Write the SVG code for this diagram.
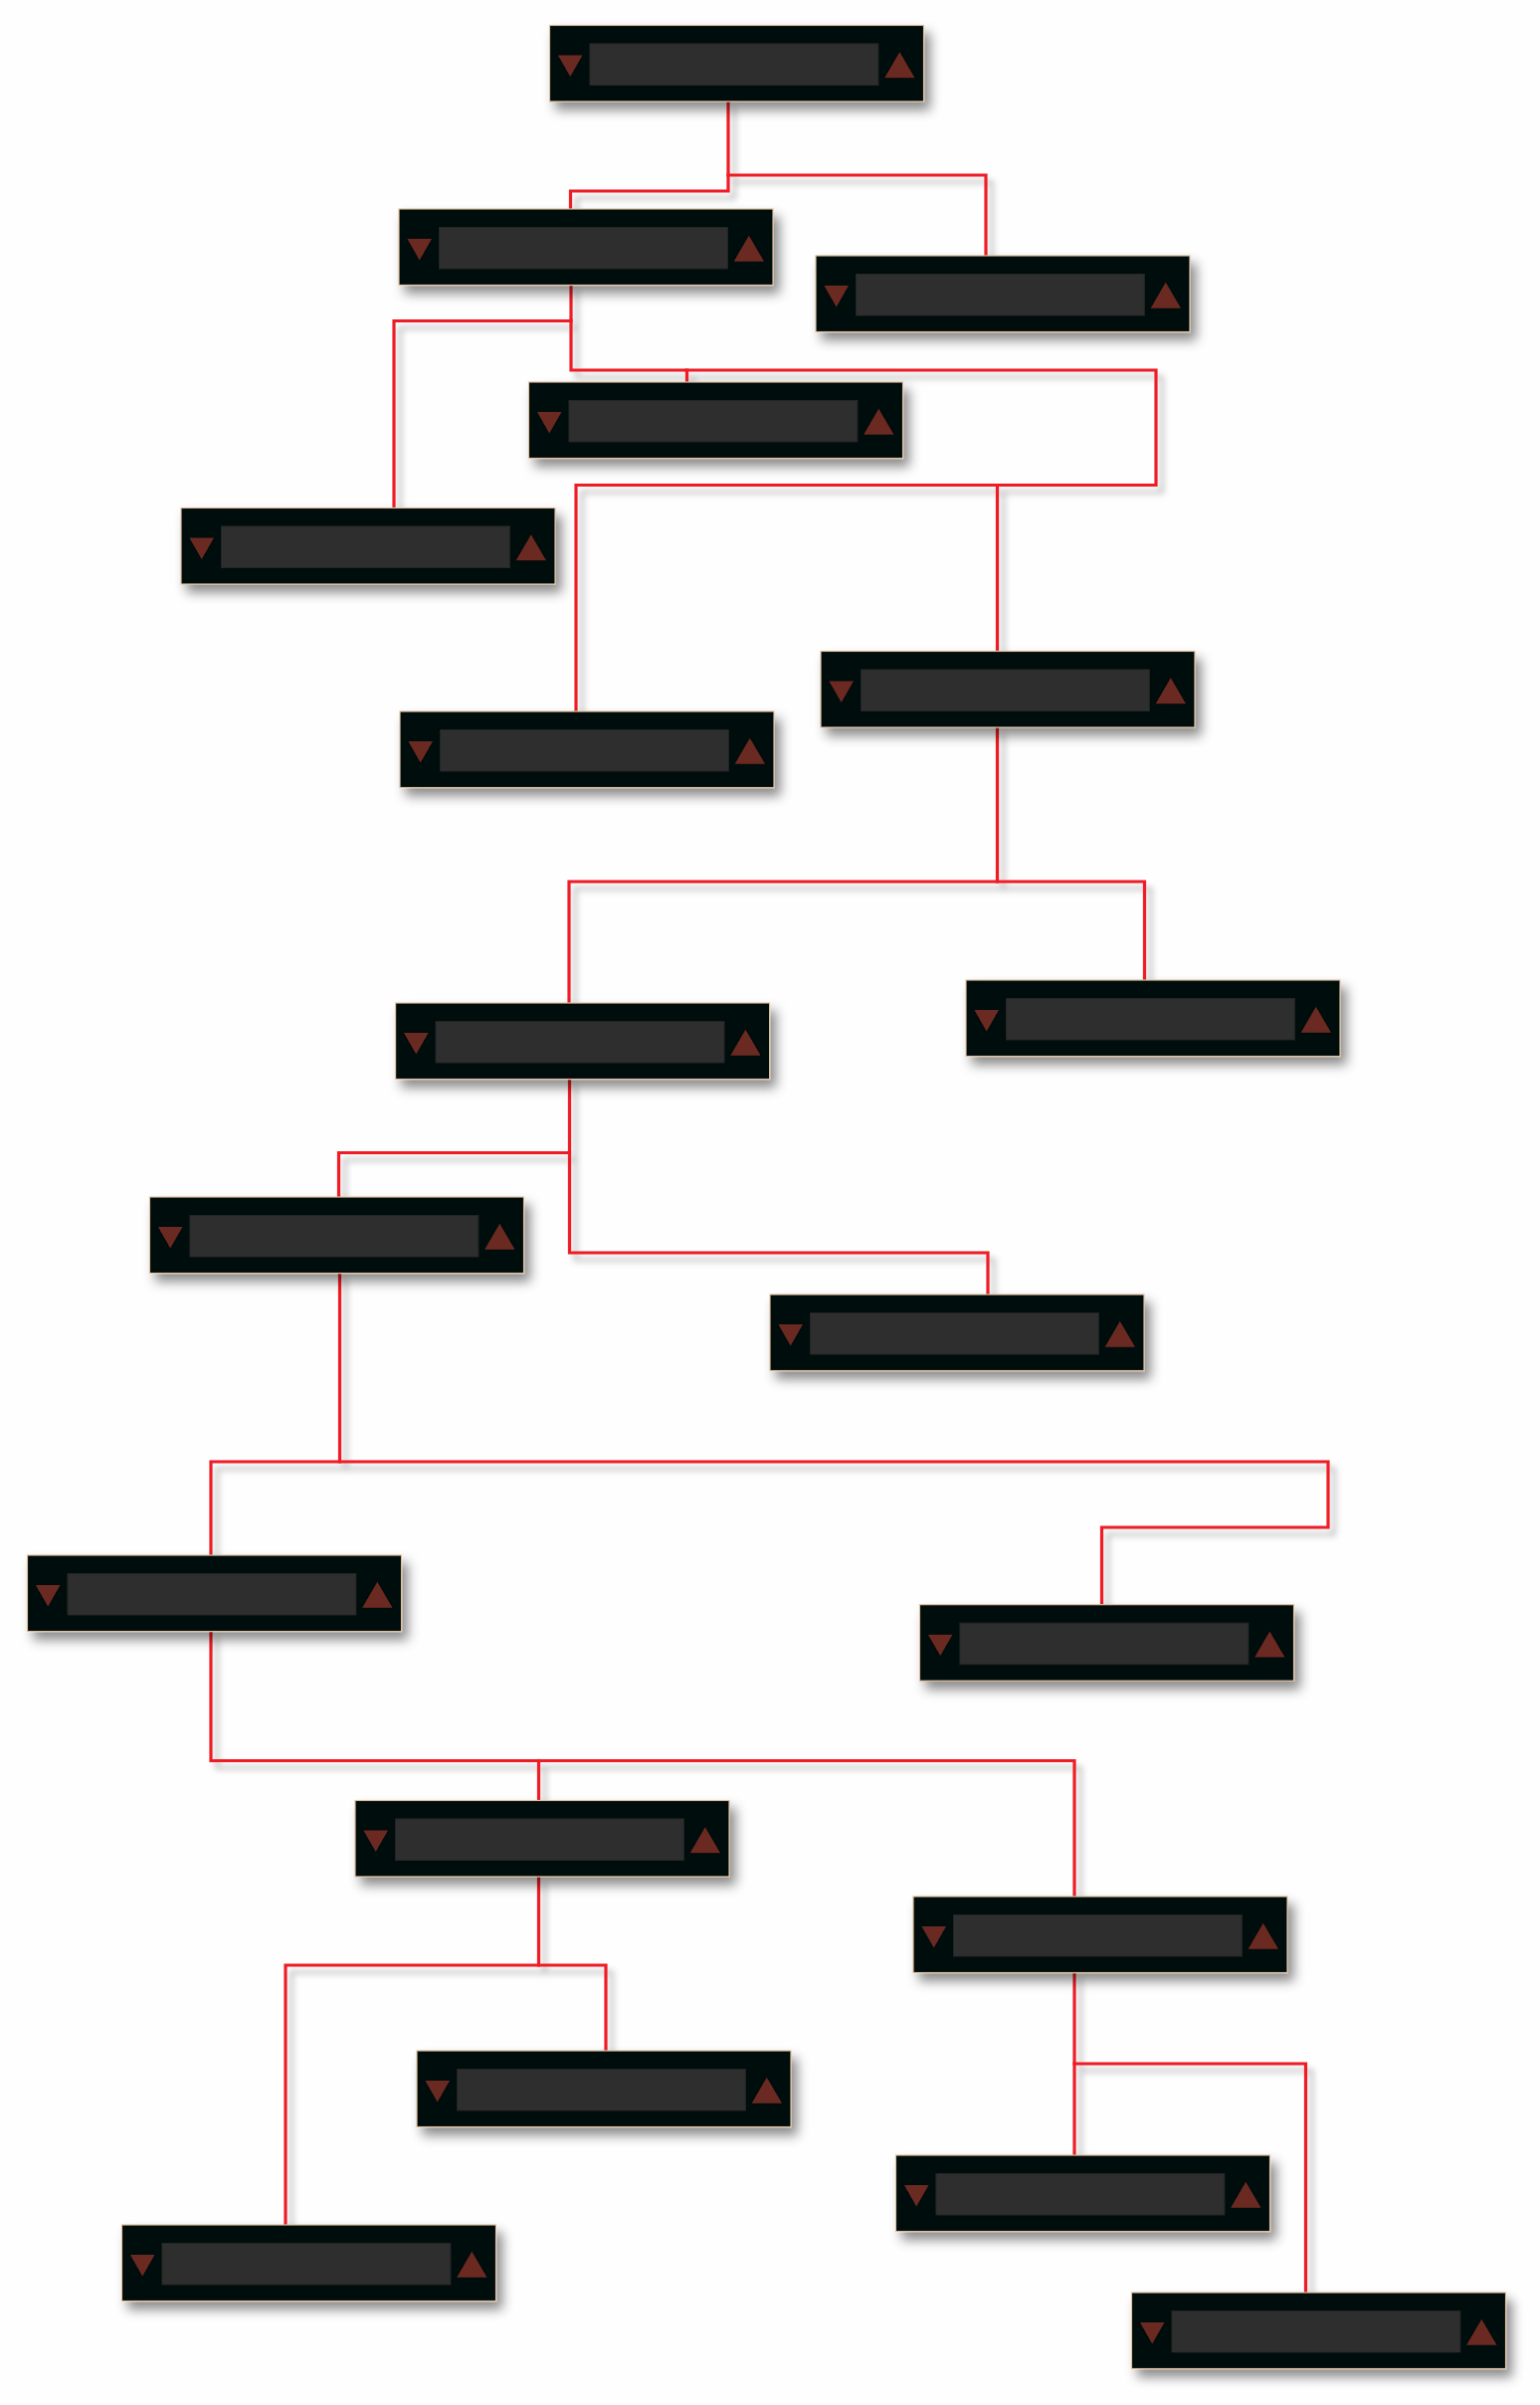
<svg xmlns="http://www.w3.org/2000/svg" xmlns:xlink="http://www.w3.org/1999/xlink" width="1548" height="2417" viewBox="0 0 1548 2417">
<style>
.frame{fill:#040707;stroke:#dcc0a0;stroke-width:1.2}
.field{fill:#2e2f2e;stroke:#252625;stroke-width:1}
.tri{fill:#6b2c23}
.wire{fill:none;stroke:#ee1c25;stroke-width:3.2;stroke-linejoin:miter;stroke-linecap:square}
</style>
<defs>
<filter id="nshadow" x="-10%" y="-30%" width="125%" height="180%">
<feDropShadow dx="6" dy="8" stdDeviation="6" flood-color="#000" flood-opacity="0.45"/>
</filter>
<filter id="wshadow" x="-5%" y="-5%" width="115%" height="115%">
<feDropShadow dx="6" dy="7" stdDeviation="3" flood-color="#000" flood-opacity="0.28"/>
</filter>
<g id="node">
<rect class="frame" x="0" y="0" width="376" height="76.5"/>
<rect class="field" x="40.4" y="18.4" width="290" height="41.6"/>
<polygon class="tri" points="8.4,30 33,30 20.7,51.4"/>
<polygon class="tri" points="351.8,26.7 367,52.7 336.7,52.7"/>
</g>
</defs>
<rect x="0" y="0" width="1548" height="2417" fill="#fefefe"/>
<g id="connectors" filter="url(#wshadow)">
<path class="wire" d="M732,102 V192 H573.5 V210"/>
<path class="wire" d="M732,176 H991 V257"/>
<path class="wire" d="M574,286 V322.5 H396 V510.5"/>
<path class="wire" d="M574,322 V372 H690.5 V384"/>
<path class="wire" d="M690,372 H1162 V487.5 H579 V715"/>
<path class="wire" d="M1002.5,487.5 V654.5"/>
<path class="wire" d="M1002.5,731 V886 H572 V1008"/>
<path class="wire" d="M1002.5,886 H1150.5 V985"/>
<path class="wire" d="M572.5,1084.5 V1158.5 H340.5 V1203"/>
<path class="wire" d="M572.5,1158 V1259 H993 V1301"/>
<path class="wire" d="M341.5,1279 V1469 H212 V1563"/>
<path class="wire" d="M341.5,1469 H1335 V1535 H1107.5 V1612.7"/>
<path class="wire" d="M212,1639.5 V1769.5 H1080 V1906"/>
<path class="wire" d="M541.5,1769.5 V1809.5"/>
<path class="wire" d="M541.5,1886 V1975 H287 V2236"/>
<path class="wire" d="M541.5,1975 H609 V2061"/>
<path class="wire" d="M1080,1982.5 V2166"/>
<path class="wire" d="M1080,2074 H1312.5 V2304"/>
</g>
<g id="n-top" filter="url(#nshadow)" transform="translate(552.5,25.5)"><use xlink:href="#node"/></g>
<g id="n-a" filter="url(#nshadow)" transform="translate(401,210)"><use xlink:href="#node"/></g>
<g id="n-b" filter="url(#nshadow)" transform="translate(820,257)"><use xlink:href="#node"/></g>
<g id="n-c" filter="url(#nshadow)" transform="translate(531.5,384)"><use xlink:href="#node"/></g>
<g id="n-d" filter="url(#nshadow)" transform="translate(182,510.5)"><use xlink:href="#node"/></g>
<g id="n-e" filter="url(#nshadow)" transform="translate(402,715)"><use xlink:href="#node"/></g>
<g id="n-f" filter="url(#nshadow)" transform="translate(825,654.5)"><use xlink:href="#node"/></g>
<g id="n-g" filter="url(#nshadow)" transform="translate(397.6,1008)"><use xlink:href="#node"/></g>
<g id="n-h" filter="url(#nshadow)" transform="translate(971,985)"><use xlink:href="#node"/></g>
<g id="n-i" filter="url(#nshadow)" transform="translate(150.5,1203)"><use xlink:href="#node"/></g>
<g id="n-j" filter="url(#nshadow)" transform="translate(774,1301)"><use xlink:href="#node"/></g>
<g id="n-k" filter="url(#nshadow)" transform="translate(27.5,1563)"><use xlink:href="#node"/></g>
<g id="n-l" filter="url(#nshadow)" transform="translate(924.5,1612.7)"><use xlink:href="#node"/></g>
<g id="n-m" filter="url(#nshadow)" transform="translate(357,1809.5)"><use xlink:href="#node"/></g>
<g id="n-n" filter="url(#nshadow)" transform="translate(918,1906)"><use xlink:href="#node"/></g>
<g id="n-p" filter="url(#nshadow)" transform="translate(419,2061)"><use xlink:href="#node"/></g>
<g id="n-o" filter="url(#nshadow)" transform="translate(900.5,2166)"><use xlink:href="#node"/></g>
<g id="n-q" filter="url(#nshadow)" transform="translate(122.5,2236)"><use xlink:href="#node"/></g>
<g id="n-r" filter="url(#nshadow)" transform="translate(1137.5,2304)"><use xlink:href="#node"/></g>
</svg>
